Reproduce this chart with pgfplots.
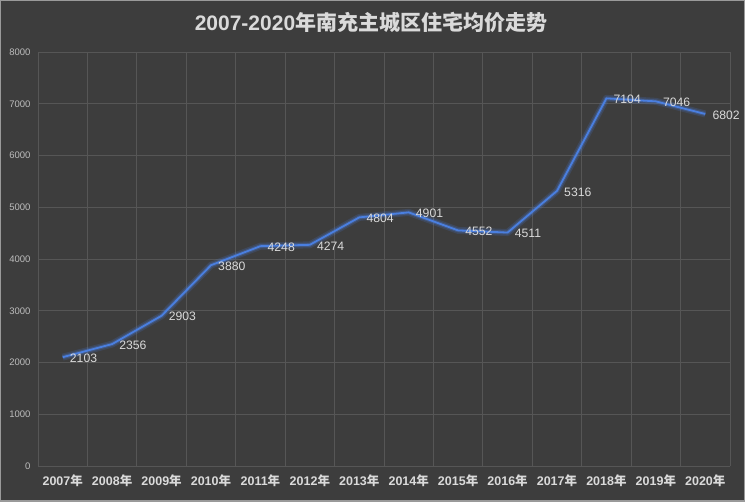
\documentclass[border=0pt]{standalone}
\usepackage{pgfplots}
\pgfplotsset{compat=1.18}
\usepackage{fontspec}
\setmainfont{Liberation Sans}
\newfontfamily\cjk{Noto Sans CJK SC}
\definecolor{bg}{HTML}{3D3D3D}
\definecolor{gridc}{HTML}{565656}
\definecolor{txt}{HTML}{DADADA}
\definecolor{ytxt}{HTML}{BDBDBD}
\definecolor{linec}{HTML}{4A7FE0}
\definecolor{frame}{HTML}{9A9A9A}
\begin{document}
\begin{tikzpicture}
\fill[bg] (-38pt,-36pt) rectangle (707pt,466pt);
\draw[frame,line width=1.5pt] (-37.25pt,-35.25pt) rectangle (706.25pt,465.25pt);
\node[txt,font=\fontsize{21}{23}\selectfont\bfseries] at (333pt,444pt) {2007-2020\cjk{年南充主城区住宅均价走势}};
\begin{axis}[
  at={(0pt,0pt)}, anchor=south west,
  scale only axis, width=692pt, height=414pt,
  xmin=-0.5, xmax=13.5, ymin=0, ymax=8000,
  xtick={0,...,13},
  xticklabels={2007\cjk{年},2008\cjk{年},2009\cjk{年},2010\cjk{年},2011\cjk{年},2012\cjk{年},2013\cjk{年},2014\cjk{年},2015\cjk{年},2016\cjk{年},2017\cjk{年},2018\cjk{年},2019\cjk{年},2020\cjk{年}},
  minor xtick={-0.5,0.5,...,13.5},
  ytick={0,1000,...,8000},
  xmajorgrids=false, xminorgrids=true, ymajorgrids=true,
  grid style={gridc, line width=0.8pt},
  minor grid style={gridc, line width=0.8pt},
  axis line style={draw=none},
  major tick length=0pt, minor tick length=0pt,
  /pgf/number format/1000 sep={},
  /pgf/number format/assume math mode=true,
  xticklabel style={txt, font=\fontsize{12.5}{14}\selectfont\bfseries, yshift=-5pt},
  yticklabel style={ytxt, font=\fontsize{9.5}{11}\selectfont, xshift=-4pt},
  clip=false,
]
\addplot[linec, opacity=0.18, line width=7pt, line join=round] coordinates {
(0,2103)(1,2356)(2,2903)(3,3880)(4,4248)(5,4274)(6,4804)(7,4901)(8,4552)(9,4511)(10,5316)(11,7104)(12,7046)(13,6802)};
\addplot[linec, opacity=0.3, line width=4pt, line join=round] coordinates {
(0,2103)(1,2356)(2,2903)(3,3880)(4,4248)(5,4274)(6,4804)(7,4901)(8,4552)(9,4511)(10,5316)(11,7104)(12,7046)(13,6802)};
\addplot[linec, line width=1.8pt, line join=round,
  nodes near coords, point meta=explicit symbolic,
  every node near coord/.append style={anchor=west, xshift=3pt, yshift=-1pt, txt, font=\fontsize{12.2}{14}\selectfont}
] coordinates {
(0,2103)[2103](1,2356)[2356](2,2903)[2903](3,3880)[3880](4,4248)[4248](5,4274)[4274](6,4804)[4804](7,4901)[4901](8,4552)[4552](9,4511)[4511](10,5316)[5316](11,7104)[7104](12,7046)[7046](13,6802)[6802]};
\end{axis}
\end{tikzpicture}
\end{document}
